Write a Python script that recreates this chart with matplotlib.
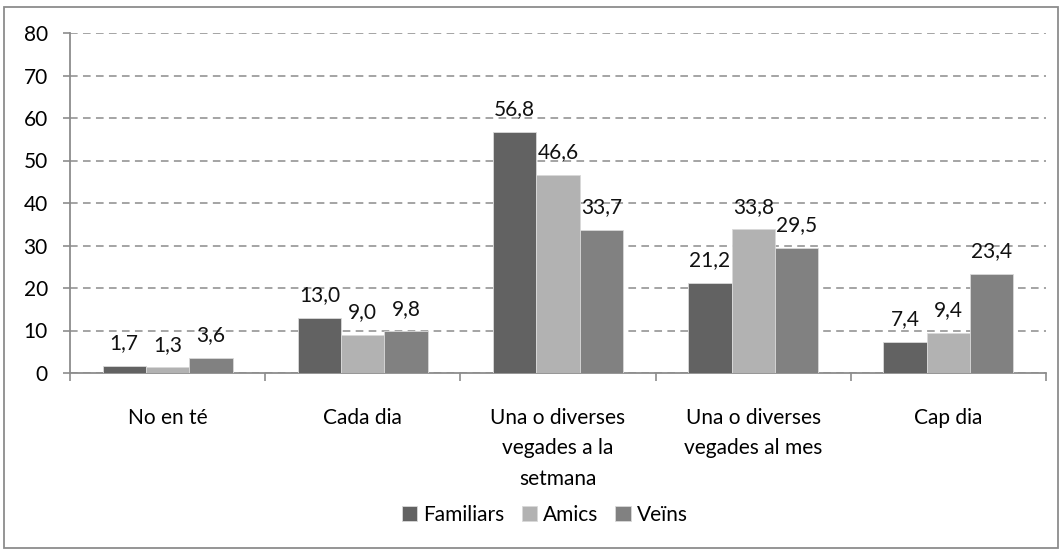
import matplotlib
matplotlib.use("Agg")
import matplotlib.pyplot as plt
import numpy as np
from matplotlib.patches import Rectangle

categories = ["No en té", "Cada dia", "Una o diverses\nvegades a la\nsetmana",
              "Una o diverses\nvegades al mes", "Cap dia"]
series_names = ["Familiars", "Amics", "Veïns"]
familiars = [1.7, 13.0, 56.8, 21.2, 7.4]
amics = [1.3, 9.0, 46.6, 33.8, 9.4]
veins = [3.6, 9.8, 33.7, 29.5, 23.4]
yticks = [0, 10, 20, 30, 40, 50, 60, 70, 80]

colors = ["#626262", "#b2b2b2", "#818181"]
plt.rcParams['font.family'] = ['Lato', 'DejaVu Sans']
FS = 15

fig = plt.figure(figsize=(10.63, 5.52), dpi=100)
ax = fig.add_axes([70/1063, 1-373/552, (1046-70)/1063, (373-33)/552])

x = np.arange(len(categories))
w = 0.222
for i, (vals, name) in enumerate(zip([familiars, amics, veins], series_names)):
    pos = x + (i - 1) * w
    ax.bar(pos, vals, width=w, color=colors[i], label=name,
           edgecolor="#d9d9d9", linewidth=0.6, zorder=3)
    for p, v in zip(pos, vals):
        ax.annotate(f"{v:.1f}".replace(".", ","), (p, v), xytext=(0, 12),
                    textcoords="offset points", ha="center", va="baseline",
                    fontsize=FS, color="#111111", zorder=4)

ax.set_xlim(-0.5, len(categories) - 0.5)
ax.set_ylim(0, 80)
ax.set_yticks(yticks)
ax.set_yticklabels([str(t) for t in yticks], fontsize=FS)
ax.yaxis.grid(True, linestyle=(0, (5, 3.5)), color="#8c8c8c", linewidth=1.1, zorder=0)
ax.set_axisbelow(True)

ax.set_xticks(x)
ax.set_xticklabels(categories, fontsize=FS, linespacing=1.65, va="top")
ax.tick_params(axis="x", length=0, pad=25)
ax.set_xticks(np.arange(-0.5, len(categories), 1.0), minor=True)
ax.tick_params(axis="x", which="minor", length=6, color="#8c8c8c", width=1.2)
ax.tick_params(axis="y", length=5, color="#8c8c8c", width=1.2, pad=11)

for s in ["top", "right"]:
    ax.spines[s].set_visible(False)
for s in ["left", "bottom"]:
    ax.spines[s].set_color("#8c8c8c")
    ax.spines[s].set_linewidth(1.3)

fig.legend(loc="center", bbox_to_anchor=(545/1063, 1-515/552), ncol=3,
           frameon=False, fontsize=FS, handlelength=0.75, handleheight=0.7,
           handletextpad=0.3, columnspacing=0.8)

fig.patches.append(Rectangle((4/1063, 4/552), 1054/1063, 541/552, transform=fig.transFigure,
                             fill=False, edgecolor="#8c8c8c", linewidth=1.3))

fig.savefig("out.png", dpi=100)
